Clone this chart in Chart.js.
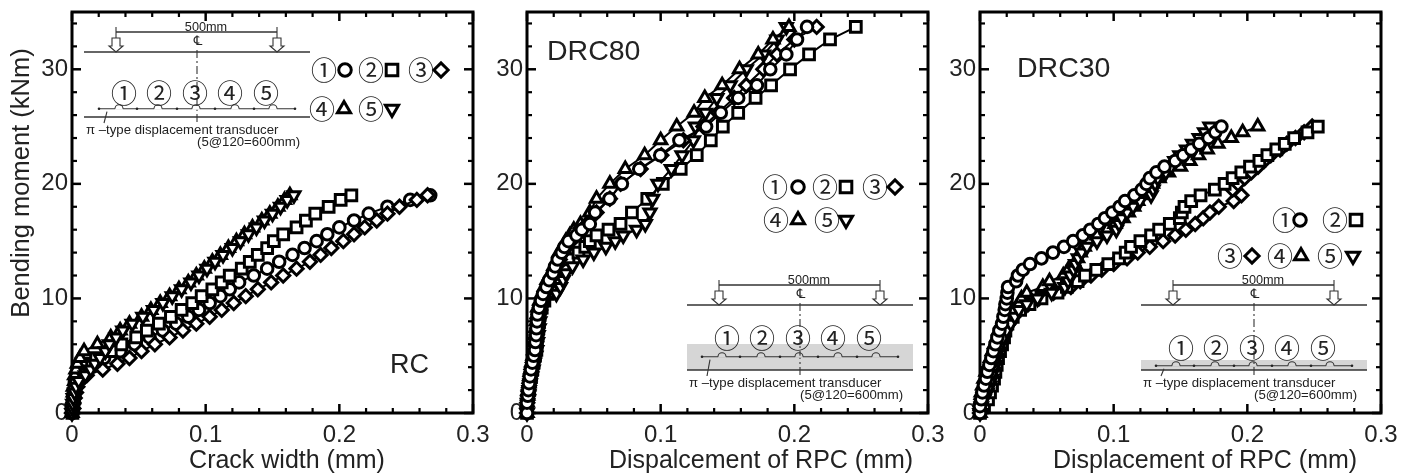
<!DOCTYPE html>
<html>
<head>
<meta charset="utf-8">
<style>
  html, body { margin: 0; padding: 0; background: #fff; }
  canvas { position: absolute; top: 0; }
</style>
<script src="https://cdn.jsdelivr.net/npm/chart.js@4"></script>
</head>
<body>
<canvas id="rc" width="501" height="475" style="left:0"></canvas>
<canvas id="drc80" width="501" height="475" style="left:455px"></canvas>
<canvas id="drc30" width="501" height="475" style="left:908px"></canvas>
<script>
// Axis ticks
const xMajor = [0, 0.1, 0.2, 0.3];
const xMinor = [0.02, 0.04, 0.06, 0.08, 0.12, 0.14, 0.16, 0.18, 0.22, 0.24, 0.26, 0.28];
const yMajor = [0, 10, 20, 30];
const yMinor = [2, 4, 6, 8, 12, 14, 16, 18, 22, 24, 26, 28, 32, 34];

// RC: moment steps and crack width of gauges 1-5
const rcMoment = [0, 0.4, 0.8, 1.3, 1.8, 2.3, 2.8, 3.3, 3.8, 4.3, 4.8, 5.4, 6, 6.6, 7.2, 7.8, 8.4, 9, 9.6, 10.2, 10.8, 11.4, 12, 12.6, 13.2, 13.8, 14.4, 15, 15.6, 16.2, 16.8, 17.4, 18, 18.6, 19];
const rcGauge1 = [0, 0.0005, 0.001, 0.0015, 0.002, 0.003, 0.004, 0.006, 0.008, 0.014, 0.024, 0.036, 0.047, 0.058, 0.068, 0.078, 0.087, 0.095, 0.103, 0.111, 0.118, 0.125, 0.136, 0.146, 0.155, 0.165, 0.174, 0.183, 0.191, 0.2, 0.211, 0.222, 0.236, 0.253, 0.268];
const rcGauge2 = [0.0003, 0.0005, 0.001, 0.001, 0.002, 0.002, 0.003, 0.004, 0.005, 0.007, 0.018, 0.029, 0.037, 0.048, 0.056, 0.065, 0.074, 0.082, 0.09, 0.097, 0.105, 0.112, 0.118, 0.127, 0.133, 0.139, 0.146, 0.151, 0.158, 0.168, 0.175, 0.182, 0.192, 0.201, 0.209];
const rcGauge3 = [0, 0.001, 0.001, 0.002, 0.003, 0.004, 0.006, 0.011, 0.023, 0.034, 0.043, 0.052, 0.062, 0.073, 0.083, 0.093, 0.103, 0.112, 0.121, 0.13, 0.139, 0.149, 0.158, 0.168, 0.178, 0.186, 0.194, 0.203, 0.211, 0.219, 0.228, 0.236, 0.245, 0.258, 0.266];
const rcGauge4 = [0, 0.0002, 0.0005, 0.001, 0.001, 0.001, 0.002, 0.002, 0.003, 0.004, 0.006, 0.009, 0.019, 0.029, 0.036, 0.043, 0.052, 0.059, 0.066, 0.073, 0.08, 0.087, 0.093, 0.099, 0.105, 0.111, 0.117, 0.123, 0.129, 0.135, 0.142, 0.148, 0.154, 0.159, 0.163];
const rcGauge5 = [0, 0.0003, 0.0006, 0.001, 0.002, 0.003, 0.005, 0.01, 0.014, 0.017, 0.021, 0.025, 0.028, 0.033, 0.038, 0.045, 0.053, 0.061, 0.068, 0.075, 0.082, 0.089, 0.095, 0.101, 0.107, 0.113, 0.12, 0.126, 0.132, 0.138, 0.144, 0.15, 0.156, 0.161, 0.166];

// DRC80
const d80Moment = [0, 0.9, 1.5, 2, 2.6, 3.2, 3.8, 4.4, 5, 5.5, 6.2, 6.8, 7.4, 8, 8.6, 9.2, 9.8, 10.4, 11, 11.6, 12.2, 12.8, 13.4, 14, 14.5, 15, 15.5, 16, 16.5, 17.5, 18.7, 20, 21.3, 22.5, 23.8, 25, 26.2, 27.5, 28.6, 30, 31.3, 32.6, 33.7];
const d80Gauge1 = [0, 0, 0.0006, 0.001, 0.0015, 0.0022, 0.003, 0.004, 0.005, 0.006, 0.0063, 0.0068, 0.0071, 0.0075, 0.0078, 0.009, 0.0105, 0.012, 0.0145, 0.0165, 0.0195, 0.021, 0.023, 0.026, 0.028, 0.031, 0.037, 0.041, 0.047, 0.051, 0.0617, 0.071, 0.084, 0.0997, 0.114, 0.134, 0.145, 0.158, 0.172, 0.182, 0.194, 0.202, 0.2095];
const d80Gauge2 = [0, 0.0003, 0.0008, 0.0014, 0.002, 0.003, 0.004, 0.005, 0.006, 0.007, 0.0075, 0.008, 0.0085, 0.009, 0.0095, 0.011, 0.013, 0.0155, 0.018, 0.022, 0.025, 0.0275, 0.031, 0.0385, 0.0436, 0.047, 0.052, 0.061, 0.07, 0.0785, 0.09, 0.1016, 0.115, 0.127, 0.1375, 0.1465, 0.158, 0.171, 0.1826, 0.1968, 0.211, 0.2267, 0.246];
const d80Gauge3 = [0, 0.0002, 0.0007, 0.0012, 0.0018, 0.0025, 0.0033, 0.0043, 0.0053, 0.0062, 0.0068, 0.0072, 0.0078, 0.0082, 0.0088, 0.0098, 0.0112, 0.013, 0.015, 0.017, 0.02, 0.022, 0.0245, 0.027, 0.03, 0.033, 0.037, 0.041, 0.045, 0.052, 0.062, 0.07, 0.085, 0.1005, 0.117, 0.132, 0.143, 0.155, 0.164, 0.1768, 0.187, 0.2, 0.2167];
const d80Gauge4 = [0, 0.0002, 0.0005, 0.001, 0.0014, 0.002, 0.0027, 0.0035, 0.0045, 0.0052, 0.0057, 0.006, 0.0065, 0.007, 0.0075, 0.008, 0.0095, 0.011, 0.013, 0.015, 0.018, 0.02, 0.0225, 0.024, 0.027, 0.029, 0.032, 0.035, 0.04, 0.047, 0.052, 0.062, 0.0735, 0.088, 0.1, 0.112, 0.125, 0.133, 0.146, 0.159, 0.173, 0.184, 0.196];
const d80Gauge5 = [0, 0.0004, 0.001, 0.0016, 0.0024, 0.0034, 0.0045, 0.0055, 0.0065, 0.0072, 0.0078, 0.0083, 0.009, 0.0095, 0.01, 0.011, 0.0135, 0.022, 0.025, 0.027, 0.029, 0.034, 0.042, 0.05, 0.059, 0.066, 0.072, 0.082, 0.0885, 0.092, 0.094, 0.098, 0.108, 0.116, 0.1245, 0.126, 0.1335, 0.142, 0.152, 0.164, 0.177, 0.187, 0.194];

// DRC30
const d30Moment = [0, 0.6, 1.2, 1.8, 2.4, 3, 3.6, 4.2, 4.8, 5.4, 6, 6.6, 7.2, 7.8, 8.4, 9, 9.5, 10, 10.5, 11, 11.5, 12, 12.5, 13, 13.5, 14, 14.5, 15, 15.5, 16, 16.5, 17, 17.5, 18, 18.5, 19, 19.5, 20, 20.5, 21, 21.5, 22, 22.5, 23, 23.5, 24, 24.5, 25];
const d30Gauge1 = [0, 0, 0.001, 0.0018, 0.003, 0.0045, 0.0055, 0.007, 0.0085, 0.01, 0.0115, 0.013, 0.0145, 0.0165, 0.0175, 0.0185, 0.019, 0.02, 0.0205, 0.021, 0.027, 0.0284, 0.0321, 0.0374, 0.046, 0.0546, 0.0628, 0.0697, 0.077, 0.0825, 0.0885, 0.0935, 0.099, 0.1045, 0.1085, 0.1155, 0.121, 0.1245, 0.127, 0.132, 0.138, 0.146, 0.152, 0.158, 0.164, 0.171, 0.176, 0.1806];
const d30Gauge2 = [0, 0.003, 0.006, 0.0075, 0.009, 0.0105, 0.0115, 0.0125, 0.0135, 0.015, 0.0165, 0.018, 0.019, 0.0205, 0.0245, 0.03, 0.037, 0.046, 0.058, 0.065, 0.073, 0.0785, 0.087, 0.096, 0.104, 0.109, 0.113, 0.12, 0.128, 0.134, 0.142, 0.1495, 0.151, 0.153, 0.158, 0.165, 0.1757, 0.183, 0.189, 0.1955, 0.202, 0.209, 0.215, 0.2217, 0.228, 0.235, 0.245, 0.2527];
const d30Gauge3 = [0, 0.0005, 0.001, 0.0025, 0.004, 0.006, 0.0075, 0.0095, 0.011, 0.0125, 0.015, 0.0165, 0.0185, 0.0215, 0.025, 0.028, 0.036, 0.044, 0.055, 0.068, 0.075, 0.083, 0.091, 0.1, 0.11, 0.118, 0.127, 0.137, 0.146, 0.154, 0.161, 0.167, 0.172, 0.1786, 0.1898, 0.1956, 0.189, 0.193, 0.198, 0.203, 0.208, 0.2125, 0.2175, 0.2245, 0.2295, 0.236, 0.2425, 0.2485];
const d30Gauge4 = [0, 0.0002, 0.0006, 0.001, 0.002, 0.003, 0.0045, 0.0062, 0.0078, 0.0092, 0.0108, 0.0125, 0.014, 0.016, 0.0185, 0.0245, 0.029, 0.031, 0.035, 0.047, 0.052, 0.0623, 0.066, 0.071, 0.073, 0.075, 0.078, 0.0815, 0.0875, 0.095, 0.101, 0.107, 0.111, 0.115, 0.118, 0.1205, 0.124, 0.129, 0.134, 0.141, 0.15, 0.157, 0.1635, 0.17, 0.178, 0.188, 0.1965, 0.2078];
const d30Gauge5 = [0, 0.001, 0.003, 0.0055, 0.0075, 0.009, 0.01, 0.0115, 0.0125, 0.014, 0.0155, 0.0175, 0.02, 0.023, 0.026, 0.029, 0.035, 0.043, 0.0536, 0.0635, 0.066, 0.0675, 0.07, 0.0715, 0.0735, 0.076, 0.08, 0.0875, 0.095, 0.102, 0.104, 0.106, 0.11, 0.1145, 0.1196, 0.128, 0.1295, 0.131, 0.133, 0.139, 0.143, 0.1457, 0.1495, 0.1545, 0.159, 0.164, 0.168, 0.172];

const gaugeNames = ["①", "②", "③", "④", "⑤"];

// marker for each gauge
const markers = [
  { pointStyle: "circle", pointRadius: 5.8, pointRotation: 0 },
  { pointStyle: "rect", pointRadius: 7.6, pointRotation: 0 },
  { pointStyle: "rectRot", pointRadius: 6.6, pointRotation: 0 },
  { pointStyle: "triangle", pointRadius: 7, pointRotation: 0 },
  { pointStyle: "triangle", pointRadius: 7, pointRotation: 180 }
];

const sansFont = '"Liberation Sans", Arial, sans-serif';

function drawTextAt(ctx, text, x, y, size, align, font) {
  ctx.font = size + "px " + (font || sansFont);
  ctx.textAlign = align || "left";
  ctx.textBaseline = "middle";
  ctx.fillText(text, x, y);
}

// frame with inward ticks on all four sides
function drawFrame(chart) {
  const ctx = chart.ctx;
  const a = chart.chartArea;
  const tick = (x1, y1, x2, y2, w) => {
    ctx.lineWidth = w;
    ctx.beginPath();
    ctx.moveTo(x1, y1);
    ctx.lineTo(x2, y2);
    ctx.stroke();
  };
  ctx.save();
  ctx.strokeStyle = "#000";
  xMajor.forEach(v => {
    const x = chart.scales.x.getPixelForValue(v);
    tick(x, a.bottom, x, a.bottom - 9, 2.5);
    tick(x, a.top, x, a.top + 9, 2.5);
  });
  xMinor.forEach(v => {
    const x = chart.scales.x.getPixelForValue(v);
    tick(x, a.bottom, x, a.bottom - 5, 2.2);
    tick(x, a.top, x, a.top + 5, 2.2);
  });
  yMajor.forEach(v => {
    const y = chart.scales.y.getPixelForValue(v);
    tick(a.left, y, a.left + 9, y, 2.5);
    tick(a.right, y, a.right - 9, y, 2.5);
  });
  yMinor.forEach(v => {
    const y = chart.scales.y.getPixelForValue(v);
    tick(a.left, y, a.left + 5, y, 2.2);
    tick(a.right, y, a.right - 5, y, 2.2);
  });
  ctx.lineWidth = 3;
  ctx.strokeRect(a.left, a.top, a.right - a.left, a.bottom - a.top);
  ctx.restore();
}

// beam sketch with the gauge layout, dx/dy move it from the first panel's spot
function drawSketch(ctx, s) {
  const dx = s.dx, dy = s.dy;
  const line = (x1, y1, x2, y2) => {
    ctx.beginPath();
    ctx.moveTo(x1 + dx, y1 + dy);
    ctx.lineTo(x2 + dx, y2 + dy);
    ctx.stroke();
  };
  ctx.save();
  if (s.shadeTop !== null) {
    ctx.fillStyle = "#d6d6d6";
    ctx.fillRect(84 + dx, s.shadeTop + dy, 226, 117 - s.shadeTop);
  }
  ctx.strokeStyle = "#333";
  ctx.fillStyle = "#222";
  ctx.lineWidth = 1.4;
  line(84, 52, 310, 52);
  line(84, 117, 310, 117);
  line(116, 32, 277, 32);

  // load arrows
  [116, 277].forEach(x => {
    ctx.lineWidth = 1.1;
    line(x, 27, x, 38);
    ctx.beginPath();
    ctx.moveTo(x - 4 + dx, 38 + dy);
    ctx.lineTo(x + 4 + dx, 38 + dy);
    ctx.lineTo(x + 4 + dx, 46 + dy);
    ctx.lineTo(x + 7 + dx, 46 + dy);
    ctx.lineTo(x + dx, 52 + dy);
    ctx.lineTo(x - 7 + dx, 46 + dy);
    ctx.lineTo(x - 4 + dx, 46 + dy);
    ctx.closePath();
    ctx.stroke();
  });

  // centre line
  ctx.setLineDash([8, 3, 2, 3]);
  ctx.lineWidth = 1.1;
  line(197, 50, 197, 125);
  ctx.setLineDash([]);

  // gauge line with bumps and dots
  const gy = 108.7 + s.gaugeShift;
  line(99, gy, 295, gy);
  [137, 177, 215, 254, 295, 99].forEach(x => {
    ctx.beginPath();
    ctx.arc(x + dx, gy + dy, 1.3, 0, Math.PI * 2);
    ctx.fill();
  });
  [119, 158, 196, 235, 273].forEach(x => {
    ctx.save();
    ctx.fillStyle = s.shadeTop !== null ? "#d6d6d6" : "#fff";
    ctx.fillRect(x - 4 + dx, gy - 1 + dy, 8, 2);
    ctx.restore();
    ctx.beginPath();
    ctx.arc(x + dx, gy + dy, 4, Math.PI, 0);
    ctx.stroke();
  });
  line(107, gy + 3, 104, 123);

  // labels
  ctx.fillStyle = "#222";
  drawTextAt(ctx, "500mm", 206 + dx, 27 + dy, 12.7, "center");
  drawTextAt(ctx, "℄", 198 + dx, 42 + dy, 13, "center", '"DejaVu Sans"');
  [124, 159, 195, 230, 266].forEach((x, i) => {
    drawTextAt(ctx, gaugeNames[i], x + dx, 93 + s.numShift + dy, 26, "center", '"Noto Sans CJK JP"');
  });
  drawTextAt(ctx, "π –type displacement transducer", 86 + dx, 130 + dy, 13.2, "left");
  drawTextAt(ctx, "(5@120=600mm)", 197 + dx, 142 + dy, 13.2, "left");
  ctx.restore();
}

// gauge key: circled number plus its marker
function drawKey(ctx, key) {
  key.forEach(k => {
    ctx.fillStyle = "#222";
    drawTextAt(ctx, gaugeNames[k.gauge], k.x, k.y, 26, "center", '"Noto Sans CJK JP"');
    const m = markers[k.gauge];
    ctx.save();
    ctx.fillStyle = "#fff";
    ctx.strokeStyle = "#000";
    ctx.lineWidth = 3;
    Chart.helpers.drawPoint(ctx, {
      pointStyle: m.pointStyle,
      rotation: m.pointRotation,
      radius: m.pointRadius * 1.08,
      borderWidth: 3
    }, k.mx, k.y);
    ctx.restore();
  });
}

const panelPlugin = {
  id: "panel",
  beforeDatasetsDraw(chart) {
    const p = chart.options.plugins.panel;
    const ctx = chart.ctx;
    ctx.save();
    ctx.translate(-p.left, 0);
    drawSketch(ctx, p.sketch);
    ctx.restore();
    drawFrame(chart);
  },
  afterDraw(chart) {
    const p = chart.options.plugins.panel;
    const ctx = chart.ctx;
    ctx.save();
    ctx.translate(-p.left, 0);
    drawKey(ctx, p.key);
    ctx.fillStyle = "#222";
    drawTextAt(ctx, p.name.text, p.name.x, p.name.y, p.name.size);
    drawTextAt(ctx, p.xTitle.text, p.xTitle.x, 461, 25, "center");
    if (p.yTitle) {
      ctx.save();
      ctx.translate(p.yTitle.x, p.yTitle.y);
      ctx.rotate(-Math.PI / 2);
      drawTextAt(ctx, p.yTitle.text, 0, 0, 25.5, "center");
      ctx.restore();
    }
    ctx.restore();
  }
};

function makePanel(id, moment, gauges, order, panel) {
  new Chart(document.getElementById(id), {
    type: "scatter",
    plugins: [panelPlugin],
    data: {
      datasets: gauges.map((xs, i) => ({
        label: "Gauge " + (i + 1),
        data: xs.map((x, j) => ({ x: x, y: moment[j] })),
        showLine: true,
        borderColor: "#000",
        borderWidth: 2,
        backgroundColor: "#fff",
        pointBackgroundColor: "#fff",
        pointBorderColor: "#000",
        pointBorderWidth: 3,
        pointStyle: markers[i].pointStyle,
        pointRadius: markers[i].pointRadius,
        pointRotation: markers[i].pointRotation,
        order: order[i],
        clip: false
      }))
    },
    options: {
      responsive: false,
      animation: false,
      layout: { padding: { top: 12, right: 28, bottom: 0, left: 0 } },
      plugins: { legend: { display: false }, tooltip: { enabled: false }, panel: panel },
      scales: {
        x: {
          type: "linear",
          min: 0,
          max: 0.3,
          afterFit: s => { s.height = 62; s.paddingLeft = 0; s.paddingRight = 0; },
          grid: { display: false, drawTicks: false },
          border: { display: false },
          ticks: {
            stepSize: 0.1,
            padding: 8,
            maxRotation: 0,
            color: "#222",
            font: { family: sansFont, size: 24 },
            callback: v => String(+v.toFixed(1))
          }
        },
        y: {
          type: "linear",
          min: 0,
          max: 35,
          afterFit: s => { s.width = 72; s.paddingTop = 0; s.paddingBottom = 0; },
          grid: { display: false, drawTicks: false },
          border: { display: false },
          ticks: {
            stepSize: 10,
            includeBounds: false,
            padding: 4,
            color: "#222",
            font: { family: sansFont, size: 24 }
          }
        }
      }
    }
  });
}

makePanel("rc", rcMoment, [rcGauge1, rcGauge2, rcGauge3, rcGauge4, rcGauge5], [4, 2, 3, 1, 0], {
  left: 0,
  name: { text: "RC", x: 390, y: 366, size: 27 },
  xTitle: { text: "Crack width (mm)", x: 287 },
  yTitle: { text: "Bending moment (kNm)", x: 22, y: 183 },
  sketch: { dx: 0, dy: 0, shadeTop: null, gaugeShift: 0, numShift: 0 },
  key: [
    { gauge: 0, x: 324, mx: 345, y: 70 },
    { gauge: 1, x: 371, mx: 392, y: 70 },
    { gauge: 2, x: 421, mx: 441, y: 70 },
    { gauge: 3, x: 322, mx: 344, y: 109 },
    { gauge: 4, x: 371, mx: 392, y: 109 }
  ]
});

makePanel("drc80", d80Moment, [d80Gauge1, d80Gauge2, d80Gauge3, d80Gauge4, d80Gauge5], [0, 4, 1, 2, 3], {
  left: 455,
  name: { text: "DRC80", x: 547, y: 52, size: 28.5 },
  xTitle: { text: "Dispalcement of RPC (mm)", x: 761 },
  sketch: { dx: 603, dy: 253, shadeTop: 91, gaugeShift: -5, numShift: -8 },
  key: [
    { gauge: 0, x: 775, mx: 798, y: 187 },
    { gauge: 1, x: 825, mx: 846, y: 187 },
    { gauge: 2, x: 875, mx: 895, y: 187 },
    { gauge: 3, x: 776, mx: 798, y: 220 },
    { gauge: 4, x: 827, mx: 846, y: 220 }
  ]
});

makePanel("drc30", d30Moment, [d30Gauge1, d30Gauge2, d30Gauge3, d30Gauge4, d30Gauge5], [0, 3, 4, 2, 1], {
  left: 908,
  name: { text: "DRC30", x: 1017, y: 69, size: 28.5 },
  xTitle: { text: "Displacement of RPC (mm)", x: 1205 },
  sketch: { dx: 1057, dy: 253, shadeTop: 107, gaugeShift: 4, numShift: 2 },
  key: [
    { gauge: 0, x: 1285, mx: 1300, y: 220 },
    { gauge: 1, x: 1335, mx: 1356, y: 220 },
    { gauge: 2, x: 1230, mx: 1252, y: 256 },
    { gauge: 3, x: 1280, mx: 1301, y: 256 },
    { gauge: 4, x: 1330, mx: 1353, y: 256 }
  ]
});
</script>
</body>
</html>
